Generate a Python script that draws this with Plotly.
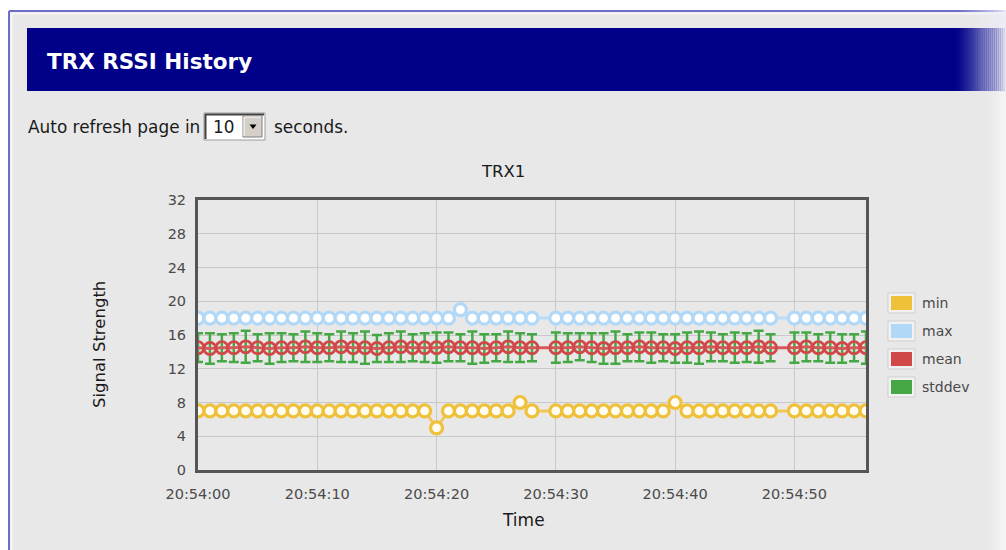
import plotly.graph_objects as go

# ---- data -------------------------------------------------------------
times = [
    "20:54:00", "20:54:01", "20:54:02", "20:54:03", "20:54:04", "20:54:05", "20:54:06", "20:54:07", "20:54:08", "20:54:09",
    "20:54:10", "20:54:11", "20:54:12", "20:54:13", "20:54:14", "20:54:15", "20:54:16", "20:54:17", "20:54:18", "20:54:19",
    "20:54:20", "20:54:21", "20:54:22", "20:54:23", "20:54:24", "20:54:25", "20:54:26", "20:54:27", "20:54:28",
    "20:54:30", "20:54:31", "20:54:32", "20:54:33", "20:54:34", "20:54:35", "20:54:36", "20:54:37", "20:54:38", "20:54:39",
    "20:54:40", "20:54:41", "20:54:42", "20:54:43", "20:54:44", "20:54:45", "20:54:46", "20:54:47", "20:54:48",
    "20:54:50", "20:54:51", "20:54:52", "20:54:53", "20:54:54", "20:54:55", "20:54:56",
]

min_vals = [
    7, 7, 7, 7, 7, 7, 7, 7, 7, 7,
    7, 7, 7, 7, 7, 7, 7, 7, 7, 7,
    5, 7, 7, 7, 7, 7, 7, 8, 7,
    7, 7, 7, 7, 7, 7, 7, 7, 7, 7,
    8, 7, 7, 7, 7, 7, 7, 7, 7,
    7, 7, 7, 7, 7, 7, 7,
]

max_vals = [
    18, 18, 18, 18, 18, 18, 18, 18, 18, 18,
    18, 18, 18, 18, 18, 18, 18, 18, 18, 18,
    18, 18, 19, 18, 18, 18, 18, 18, 18,
    18, 18, 18, 18, 18, 18, 18, 18, 18, 18,
    18, 18, 18, 18, 18, 18, 18, 18, 18,
    18, 18, 18, 18, 18, 18, 18,
]

mean_vals = [
    14.5, 14.4, 14.5, 14.5, 14.6, 14.5, 14.4, 14.5, 14.5, 14.6,
    14.5, 14.5, 14.6, 14.5, 14.5, 14.4, 14.5, 14.6, 14.5, 14.5,
    14.5, 14.6, 14.5, 14.5, 14.4, 14.5, 14.6, 14.5, 14.5,
    14.5, 14.5, 14.6, 14.5, 14.4, 14.5, 14.5, 14.6, 14.5, 14.5,
    14.4, 14.5, 14.5, 14.6, 14.5, 14.5, 14.5, 14.6, 14.5,
    14.5, 14.6, 14.5, 14.5, 14.4, 14.5, 14.5,
]

stddev_vals = [
    1.7, 1.8, 1.6, 1.7, 1.9, 1.6, 1.8, 1.7, 1.6, 1.8,
    1.7, 1.6, 1.8, 1.7, 1.9, 1.6, 1.7, 1.8, 1.6, 1.7,
    1.8, 1.7, 1.6, 1.9, 1.7, 1.6, 1.8, 1.7, 1.6,
    1.8, 1.7, 1.6, 1.7, 1.8, 1.9, 1.6, 1.7, 1.8, 1.6,
    1.7, 1.8, 1.9, 1.7, 1.6, 1.8, 1.7, 1.9, 1.6,
    1.8, 1.7, 1.6, 1.8, 1.7, 1.6, 1.9,
]

series_names = ["min", "max", "mean", "stddev"]
y_ticks = [0, 4, 8, 12, 16, 20, 24, 28, 32]
x_start, x_end = "20:54:00", "20:54:56"

# ---- page geometry helpers (pixel -> paper) ---------------------------
W, H = 1006, 550
FONT = "DejaVu Sans"


def px(x):
    return x / W


def py(y):
    return 1 - y / H


def rect(x0, y0, x1, y1, fill, line=None, lw=0, layer="below"):
    return dict(type="rect", xref="paper", yref="paper",
                x0=px(x0), x1=px(x1), y0=py(y1), y1=py(y0),
                fillcolor=fill, line=dict(color=line or fill, width=lw),
                layer=layer)


def hline(x0, x1, y, color, lw=1, layer="below"):
    return dict(type="line", xref="paper", yref="paper",
                x0=px(x0), x1=px(x1), y0=py(y), y1=py(y),
                line=dict(color=color, width=lw), layer=layer)


def vline(x, y0, y1, color, lw=1, layer="below"):
    return dict(type="line", xref="paper", yref="paper",
                x0=px(x), x1=px(x), y0=py(y0), y1=py(y1),
                line=dict(color=color, width=lw), layer=layer)


PAGE_BG = "#e8e8e8"
NAVY = "#000088"
C_MIN, C_MAX, C_MEAN, C_SD = "#efc13b", "#b2d8f7", "#d04848", "#45a845"

day = "2024-01-01 "
x = [day + t for t in times]

fig = go.Figure()

# min / max / mean lines
fig.add_trace(go.Scatter(
    x=x, y=min_vals, name="min", mode="lines+markers",
    line=dict(color="#f0c85a", width=3),
    marker=dict(size=12, color="#fffdf2", line=dict(color=C_MIN, width=3.2)),
))
fig.add_trace(go.Scatter(
    x=x, y=max_vals, name="max", mode="lines+markers",
    line=dict(color="#bcdcf5", width=3),
    marker=dict(size=12, color="#ffffff", line=dict(color=C_MAX, width=3.2)),
))
# stddev error bars around the mean
fig.add_trace(go.Scatter(
    x=x, y=mean_vals, name="stddev", mode="markers",
    marker=dict(size=1, color="rgba(0,0,0,0)"),
    error_y=dict(type="data", array=stddev_vals, symmetric=True,
                 color=C_SD, thickness=2.5, width=5),
))
fig.add_trace(go.Scatter(
    x=x, y=mean_vals, name="mean", mode="lines+markers",
    line=dict(color="#d45a5a", width=3),
    marker=dict(size=12, color="rgba(0,0,0,0)", line=dict(color=C_MEAN, width=2.8)),
))

# ---- page decoration --------------------------------------------------
shapes = []
shapes.append(rect(9, 11, W, H, PAGE_BG))
shapes.append(hline(9, W, 11, "#6e6ec8", 2))
shapes.append(vline(9, 11, H, "#6e6ec8", 2))
shapes.append(hline(11, W, 13.5, "#f6f6f6", 2))
shapes.append(vline(11.5, 13, H, "#f6f6f6", 2))

# header band
shapes.append(rect(27, 28, W, 91, NAVY))

# right-hand fade of the header and top border
n_fade = 26
for i in range(n_fade):
    a = ((i + 1) / n_fade) ** 1.3
    x0 = 956 + i * (W - 956) / n_fade
    x1 = 956 + (i + 1) * (W - 956) / n_fade
    shapes.append(rect(x0, 10, x1, 91.5, f"rgba(236,236,246,{a*0.97:.3f})", layer="below"))
# right-hand lightening of the page
for i in range(12):
    a = ((i + 1) / 12) ** 1.5
    x0 = 982 + i * 2
    shapes.append(rect(x0, 92, x0 + 2, H, f"rgba(255,255,255,{a*0.55:.3f})", layer="below"))

# refresh dropdown
shapes.append(rect(204, 113, 265, 140, "#ffffff", "#9a9a9a", 1))
shapes.append(hline(205, 264, 114.5, "#404040", 2))
shapes.append(vline(205.5, 114, 139, "#404040", 2))
shapes.append(rect(243, 116, 262, 137, "#d4d0c8", "#808080", 1))
shapes.append(hline(244, 261, 117, "#ffffff", 1))
shapes.append(vline(244, 117, 136, "#ffffff", 1))
tri = (f"M {px(249.5)} {py(124.5)} L {px(256.5)} {py(124.5)} "
       f"L {px(253)} {py(129)} Z")
shapes.append(dict(type="path", xref="paper", yref="paper", path=tri,
                   fillcolor="#000000", line=dict(color="#000000", width=0),
                   layer="above"))

# legend swatches
legend_colors = [C_MIN, C_MAX, C_MEAN, C_SD]
legend_top = [293, 321, 349, 377]
for c, top in zip(legend_colors, legend_top):
    shapes.append(rect(888, top, 915, top + 20, "#f2f2f2", "#cfcfcf", 1, layer="above"))
    shapes.append(rect(891, top + 3, 912, top + 17, c, layer="above"))

annotations = [
    dict(text="<b>TRX RSSI History</b>", x=px(45), y=py(61), xanchor="left", yanchor="middle",
         font=dict(family=FONT, size=21.5, color="#ffffff")),
    dict(text="Auto refresh page in", x=px(26), y=py(127), xanchor="left", yanchor="middle",
         font=dict(family=FONT, size=16.9, color="#1a1a1a")),
    dict(text="10", x=px(211), y=py(127), xanchor="left", yanchor="middle",
         font=dict(family=FONT, size=16.9, color="#1a1a1a")),
    dict(text="seconds.", x=px(272), y=py(127), xanchor="left", yanchor="middle",
         font=dict(family=FONT, size=16.9, color="#1a1a1a")),
    dict(text="TRX1", x=px(503), y=py(171), xanchor="center", yanchor="middle",
         font=dict(family=FONT, size=16.5, color="#1a1a1a")),
    dict(text="Signal Strength", x=px(99), y=py(345), xanchor="center", yanchor="middle",
         textangle=-90, font=dict(family=FONT, size=16.5, color="#1a1a1a")),
    dict(text="Time", x=px(523), y=py(520), xanchor="center", yanchor="middle",
         font=dict(family=FONT, size=17, color="#1a1a1a")),
]
for name, top in zip(series_names, legend_top):
    annotations.append(dict(text=name, x=px(920), y=py(top + 10), xanchor="left", yanchor="middle",
                            font=dict(family=FONT, size=14, color="#4a4a4a")))
for a in annotations:
    a.update(xref="paper", yref="paper", showarrow=False)

fig.update_layout(
    template="none",
    width=W, height=H,
    autosize=False,
    margin=dict(l=0, r=0, t=0, b=0, pad=0, autoexpand=False),
    paper_bgcolor="#ffffff",
    plot_bgcolor=PAGE_BG,
    showlegend=False,
    shapes=shapes,
    annotations=annotations,
    font=dict(family=FONT, size=14.5, color="#4a4a4a"),
    xaxis=dict(
        domain=[px(198), px(866)],
        type="date",
        range=[day + x_start, day + x_end],
        tickformat="%H:%M:%S",
        tick0=day + x_start,
        dtick=10000,
        automargin=False,
        showgrid=True, gridcolor="#c9c9c9", gridwidth=1,
        showline=True, linecolor="#555555", linewidth=3, mirror=True,
        zeroline=False,
        ticks="",
        ticklabelstandoff=9,
        tickfont=dict(family=FONT, size=14.5, color="#4a4a4a"),
        fixedrange=True,
    ),
    yaxis=dict(
        domain=[py(470), py(200)],
        range=[0, 32],
        tickvals=y_ticks,
        automargin=False,
        showgrid=True, gridcolor="#c9c9c9", gridwidth=1,
        showline=True, linecolor="#555555", linewidth=3, mirror=True,
        zeroline=False,
        ticks="",
        ticklabelstandoff=6,
        tickfont=dict(family=FONT, size=14.5, color="#4a4a4a"),
        fixedrange=True,
    ),
)

fig.write_html("out.html", config={"displayModeBar": False})
